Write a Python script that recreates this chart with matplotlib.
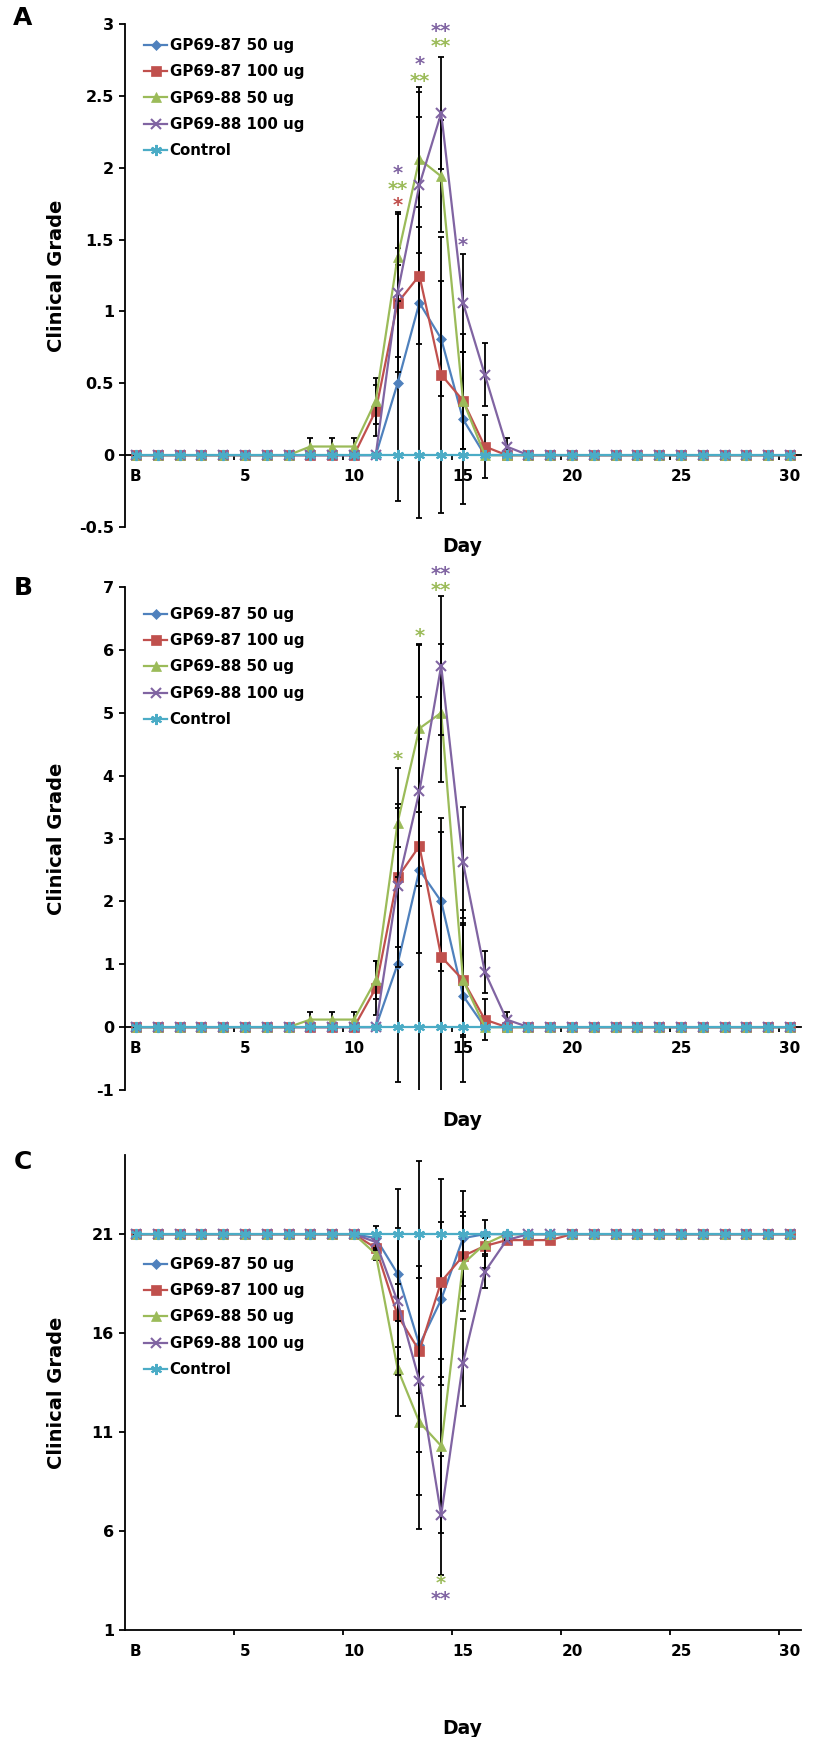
import matplotlib
matplotlib.use('Agg')
import matplotlib.pyplot as plt
import matplotlib.transforms as mtransforms

plt.rcParams['font.family'] = ['DejaVu Sans']
plt.rcParams['font.weight'] = 'bold'

# days: B (baseline), 1 .. 30
days = list(range(31))
day_labels = ['B', '5', '10', '15', '20', '25', '30']
series_names = ['GP69-87 50 ug', 'GP69-87 100 ug', 'GP69-88 50 ug',
                'GP69-88 100 ug', 'Control']

# ---------------- panel A ----------------
A_blue = [0, 0, 0, 0, 0, 0, 0, 0, 0, 0, 0, 0, 0.5, 1.06, 0.81, 0.25, 0, 0, 0,
          0, 0, 0, 0, 0, 0, 0, 0, 0, 0, 0, 0]
A_red = [0, 0, 0, 0, 0, 0, 0, 0, 0, 0, 0, 0.31, 1.06, 1.25, 0.56, 0.38, 0.06, 0, 0,
         0, 0, 0, 0, 0, 0, 0, 0, 0, 0, 0, 0]
A_green = [0, 0, 0, 0, 0, 0, 0, 0, 0.06, 0.06, 0.06, 0.38, 1.38, 2.06, 1.94, 0.38, 0, 0, 0,
           0, 0, 0, 0, 0, 0, 0, 0, 0, 0, 0, 0]
A_purple = [0, 0, 0, 0, 0, 0, 0, 0, 0, 0, 0, 0, 1.13, 1.88, 2.38, 1.06, 0.56, 0.06, 0,
            0, 0, 0, 0, 0, 0, 0, 0, 0, 0, 0, 0]
A_control = [0, 0, 0, 0, 0, 0, 0, 0, 0, 0, 0, 0, 0, 0, 0, 0, 0, 0, 0,
             0, 0, 0, 0, 0, 0, 0, 0, 0, 0, 0, 0]

A_blue_err = [0, 0, 0, 0, 0, 0, 0, 0, 0, 0, 0, 0, 0.82, 1.5, 0.4, 0.59, 0, 0, 0,
              0, 0, 0, 0, 0, 0, 0, 0, 0, 0, 0, 0]
A_red_err = [0, 0, 0, 0, 0, 0, 0, 0, 0, 0, 0, 0.18, 0.38, 0.48, 0.96, 0.34, 0.22, 0, 0,
             0, 0, 0, 0, 0, 0, 0, 0, 0, 0, 0, 0]
A_green_err = [0, 0, 0, 0, 0, 0, 0, 0, 0.06, 0.06, 0.06, 0.16, 0.31, 0.47, 0.39, 0.34, 0, 0, 0,
               0, 0, 0, 0, 0, 0, 0, 0, 0, 0, 0, 0]
A_purple_err = [0, 0, 0, 0, 0, 0, 0, 0, 0, 0, 0, 0, 0.55, 0.47, 0.39, 0.34, 0.22, 0.06, 0,
                0, 0, 0, 0, 0, 0, 0, 0, 0, 0, 0, 0]

# significance stars: (day, y, text, series index)
A_stars = [(12, 1.74, '*', 1), (12, 1.85, '**', 2), (12, 1.96, '*', 3),
           (13, 2.60, '**', 2), (13, 2.72, '*', 3),
           (14, 2.84, '**', 2), (14, 2.95, '**', 3),
           (15, 1.46, '*', 3)]

# ---------------- panel B ----------------
B_blue = [0, 0, 0, 0, 0, 0, 0, 0, 0, 0, 0, 0, 1.0, 2.5, 2.0, 0.5, 0, 0, 0,
          0, 0, 0, 0, 0, 0, 0, 0, 0, 0, 0, 0]
B_red = [0, 0, 0, 0, 0, 0, 0, 0, 0, 0, 0, 0.62, 2.38, 2.88, 1.12, 0.75, 0.12, 0, 0,
         0, 0, 0, 0, 0, 0, 0, 0, 0, 0, 0, 0]
B_green = [0, 0, 0, 0, 0, 0, 0, 0, 0.12, 0.12, 0.12, 0.75, 3.25, 4.75, 5.0, 0.75, 0, 0, 0,
           0, 0, 0, 0, 0, 0, 0, 0, 0, 0, 0, 0]
B_purple = [0, 0, 0, 0, 0, 0, 0, 0, 0, 0, 0, 0, 2.25, 3.75, 5.75, 2.62, 0.88, 0.12, 0,
            0, 0, 0, 0, 0, 0, 0, 0, 0, 0, 0, 0]
B_control = [0, 0, 0, 0, 0, 0, 0, 0, 0, 0, 0, 0, 0, 0, 0, 0, 0, 0, 0,
             0, 0, 0, 0, 0, 0, 0, 0, 0, 0, 0, 0]

B_blue_err = [0, 0, 0, 0, 0, 0, 0, 0, 0, 0, 0, 0, 1.87, 3.6, 1.1, 1.37, 0, 0, 0,
              0, 0, 0, 0, 0, 0, 0, 0, 0, 0, 0, 0]
B_red_err = [0, 0, 0, 0, 0, 0, 0, 0, 0, 0, 0, 0.43, 1.1, 1.7, 2.2, 0.87, 0.33, 0, 0,
             0, 0, 0, 0, 0, 0, 0, 0, 0, 0, 0, 0]
B_green_err = [0, 0, 0, 0, 0, 0, 0, 0, 0.12, 0.12, 0.12, 0.3, 0.87, 1.33, 1.1, 0.9, 0, 0, 0,
               0, 0, 0, 0, 0, 0, 0, 0, 0, 0, 0, 0]
B_purple_err = [0, 0, 0, 0, 0, 0, 0, 0, 0, 0, 0, 0, 1.3, 1.5, 1.1, 0.88, 0.33, 0.12, 0,
                0, 0, 0, 0, 0, 0, 0, 0, 0, 0, 0, 0]

B_stars = [(12, 4.25, '*', 2), (13, 6.22, '*', 2),
           (14, 6.95, '**', 2), (14, 7.2, '**', 3)]

# ---------------- panel C ----------------
C_blue = [21, 21, 21, 21, 21, 21, 21, 21, 21, 21, 21, 20.8, 19.0, 15.4, 17.7, 20.8, 21, 21, 21,
          21, 21, 21, 21, 21, 21, 21, 21, 21, 21, 21, 21]
C_red = [21, 21, 21, 21, 21, 21, 21, 21, 21, 21, 21, 20.3, 16.9, 15.1, 18.6, 19.9, 20.4, 20.7, 20.7,
         20.7, 21, 21, 21, 21, 21, 21, 21, 21, 21, 21, 21]
C_green = [21, 21, 21, 21, 21, 21, 21, 21, 21, 21, 21, 20.0, 14.2, 11.5, 10.3, 19.5, 20.5, 21, 21,
           21, 21, 21, 21, 21, 21, 21, 21, 21, 21, 21, 21]
C_purple = [21, 21, 21, 21, 21, 21, 21, 21, 21, 21, 21, 20.6, 17.6, 13.6, 6.8, 14.5, 19.1, 20.7, 21,
            21, 21, 21, 21, 21, 21, 21, 21, 21, 21, 21, 21]
C_control = [21, 21, 21, 21, 21, 21, 21, 21, 21, 21, 21, 21, 21, 21, 21, 21, 21, 21, 21,
             21, 21, 21, 21, 21, 21, 21, 21, 21, 21, 21, 21]

C_blue_err = [0, 0, 0, 0, 0, 0, 0, 0, 0, 0, 0, 0.6, 4.3, 9.3, 3.9, 2.4, 0, 0, 0,
              0, 0, 0, 0, 0, 0, 0, 0, 0, 0, 0, 0]
C_red_err = [0, 0, 0, 0, 0, 0, 0, 0, 0, 0, 0, 0.4, 1.6, 3.7, 5.2, 2.2, 0.4, 0, 0,
             0, 0, 0, 0, 0, 0, 0, 0, 0, 0, 0, 0]
C_green_err = [0, 0, 0, 0, 0, 0, 0, 0, 0, 0, 0, 0.3, 2.4, 1.5, 4.4, 2.4, 1.2, 0, 0,
               0, 0, 0, 0, 0, 0, 0, 0, 0, 0, 0, 0]
C_purple_err = [0, 0, 0, 0, 0, 0, 0, 0, 0, 0, 0, 0.4, 3.7, 5.8, 3.0, 2.2, 0.8, 0, 0,
                0, 0, 0, 0, 0, 0, 0, 0, 0, 0, 0, 0]

C_stars = [(14, 3.35, '*', 2), (14, 2.55, '**', 3)]

colors = ['#4F81BD', '#C0504D', '#9BBB59', '#8064A2', '#4BACC6']
markers = ['D', 's', '^', 'x', (6, 2, 0)]
msizes = [5, 6.5, 6.5, 7, 8]

fig = plt.figure(figsize=(8.14, 17.37), dpi=100)
W, H = 814.0, 1737.0


def make_panel(rect, data, errs, stars, ylim, yticks, zero_axis, letter,
               letter_y, day_y, legend_top):
    ax = fig.add_axes(rect)
    for i in range(5):
        y = data[i]
        if i < 4:
            ax.errorbar(days, y, yerr=errs[i], fmt='none', ecolor='black',
                        elinewidth=1.3, capsize=2.2, capthick=1.3, zorder=2 + i)
        mew = 1.5 if i >= 3 else 0.5
        ax.plot(days, y, color=colors[i], lw=1.6, marker=markers[i],
                ms=msizes[i], mew=mew, mec=colors[i], mfc=colors[i],
                label=series_names[i], zorder=3 + i, clip_on=False)
    for d, yv, txt, si in stars:
        ax.text(d, yv, txt, color=colors[si], ha='center', va='center',
                fontsize=14, fontweight='bold', zorder=10)

    ax.set_xlim(-0.5, 30.5)
    ax.set_ylim(*ylim)
    ax.spines['top'].set_visible(False)
    ax.spines['right'].set_visible(False)
    ax.spines['left'].set_linewidth(1.3)
    ax.spines['bottom'].set_linewidth(1.3)
    if zero_axis:
        ax.spines['bottom'].set_position(('data', 0))
    ax.set_xticks([0, 5, 10, 15, 20, 25, 30])
    ax.set_xticklabels(day_labels)
    ax.set_xticks([4.5, 9.5, 14.5, 19.5, 24.5, 29.5], minor=True)
    ax.tick_params(axis='x', which='major', length=0, pad=10, labelsize=11)
    ax.tick_params(axis='x', which='minor', length=3.5, width=1.3,
                   direction='out')
    ax.set_yticks(yticks)
    ax.set_yticklabels([('%g' % t) for t in yticks])
    ax.tick_params(axis='y', which='major', length=4, width=1.3, pad=4,
                   labelsize=11.5)
    for lab in ax.get_xticklabels() + ax.get_yticklabels():
        lab.set_fontweight('bold')

    ax.legend(loc='upper left', bbox_to_anchor=(144 / W, legend_top),
              bbox_transform=fig.transFigure, frameon=False,
              borderpad=0, borderaxespad=0, handlelength=1.55,
              handletextpad=0.15, labelspacing=0.75,
              prop={'weight': 'bold', 'size': 10.8})

    ax.set_ylabel('Clinical Grade', fontsize=14, fontweight='bold')
    ax.yaxis.set_label_coords(66 / W, 0.5,
                              transform=mtransforms.blended_transform_factory(
                                  fig.transFigure, ax.transAxes))
    fig.text(23 / W, 1 - letter_y / H, letter, fontsize=18, fontweight='bold',
             ha='center', va='center')
    fig.text(462 / W, 1 - day_y / H, 'Day', fontsize=13.5, fontweight='bold',
             ha='center', va='center')
    return ax


left = 125 / W
width = 676 / W

make_panel([left, 1 - 527 / H, width, 503 / H],
           [A_blue, A_red, A_green, A_purple, A_control],
           [A_blue_err, A_red_err, A_green_err, A_purple_err],
           A_stars, (-0.5, 3), [-0.5, 0, 0.5, 1, 1.5, 2, 2.5, 3], True,
           'A', 18, 547, 1 - 38 / H)

make_panel([left, 1 - 1090 / H, width, 503 / H],
           [B_blue, B_red, B_green, B_purple, B_control],
           [B_blue_err, B_red_err, B_green_err, B_purple_err],
           B_stars, (-1, 7), [-1, 0, 1, 2, 3, 4, 5, 6, 7], True,
           'B', 588, 1121, 1 - 607 / H)

make_panel([left, 1 - 1630 / H, width, 475 / H],
           [C_blue, C_red, C_green, C_purple, C_control],
           [C_blue_err, C_red_err, C_green_err, C_purple_err],
           C_stars, (1, 25), [1, 6, 11, 16, 21], False,
           'C', 1162, 1728, 1 - 1257 / H)

fig.savefig('out.png', dpi=100)
